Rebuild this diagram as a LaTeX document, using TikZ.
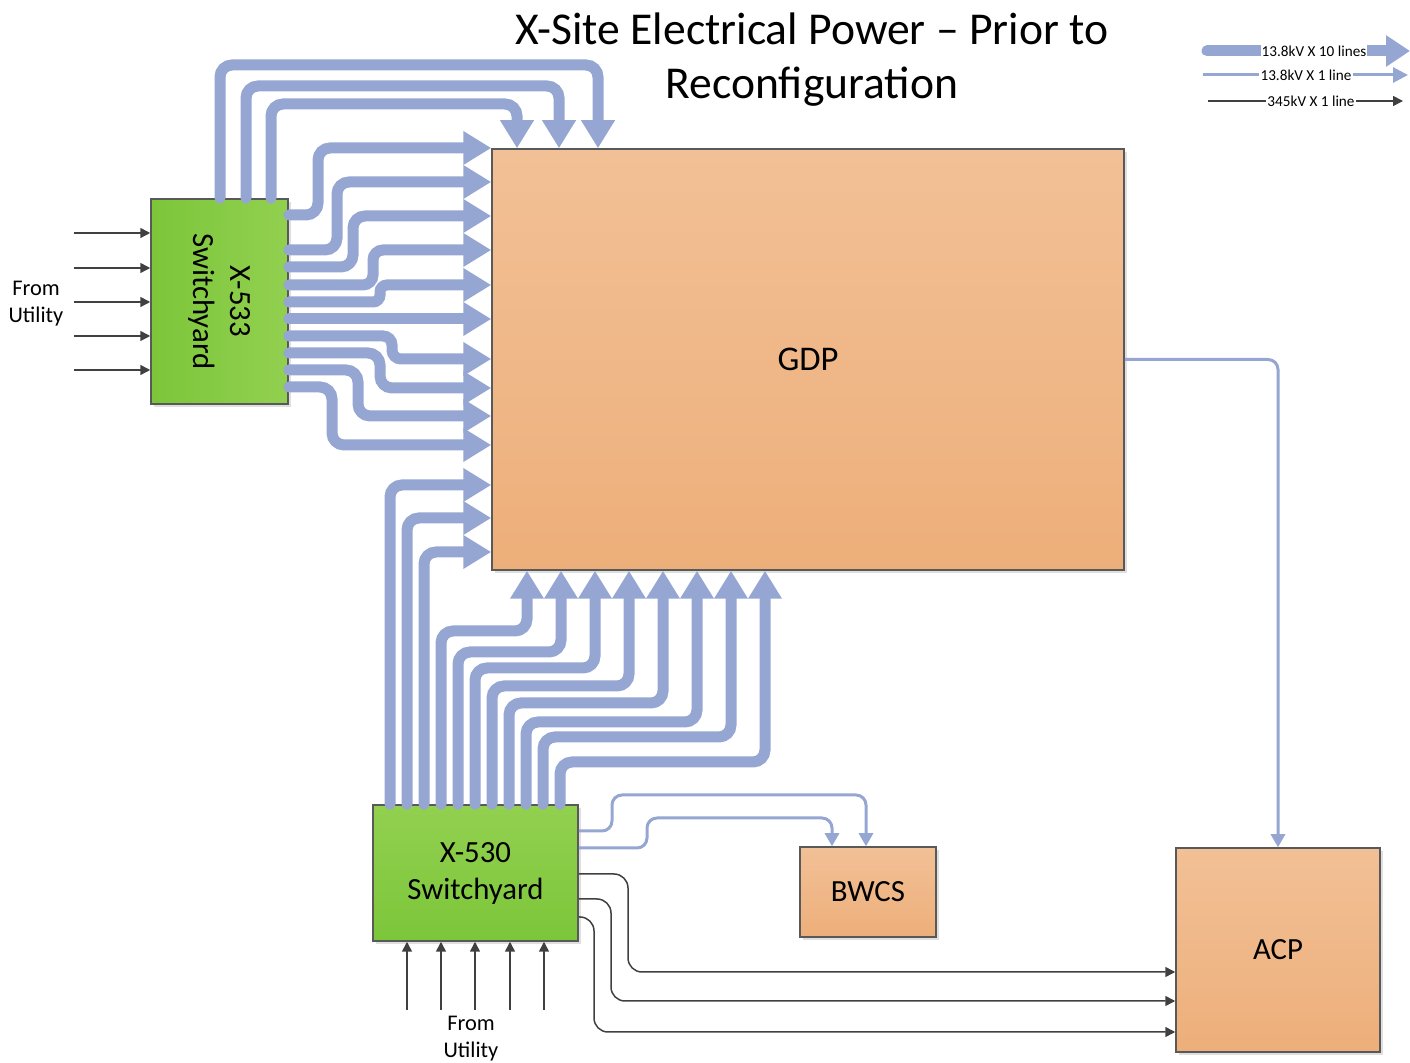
\documentclass[tikz,border=0pt]{standalone}
\usepackage{fontspec}
\setmainfont{Carlito}
\usetikzlibrary{arrows.meta,shadows}

\definecolor{busblue}{RGB}{149,166,211}
\definecolor{hvgray}{RGB}{64,64,64}
\definecolor{edgegray}{RGB}{89,89,89}
\definecolor{peachtop}{RGB}{242,192,150}
\definecolor{peachbot}{RGB}{237,175,122}
\definecolor{greenlt}{RGB}{146,208,80}
\definecolor{greendk}{RGB}{124,198,58}

\tikzset{
  block/.style={draw=edgegray, line width=0.75pt, inner sep=0pt, align=center,
    font=\fontsize{15.4}{18.5}\selectfont,
    drop shadow={shadow xshift=1.5pt, shadow yshift=-1.5pt, opacity=0.25}},
  loadbox/.style={block, top color=peachtop, bottom color=peachbot},
  yardbox/.style={block, top color=greenlt, bottom color=greendk},
  busten/.style={busblue, line width=5.5pt, line cap=round, rounded corners=6pt,
    -{Triangle[length=14pt,width=16pt]}},
  busone/.style={busblue, line width=1.5pt, rounded corners=5pt,
    -{Triangle[length=6.5pt,width=7pt]}},
  hvline/.style={hvgray, line width=0.75pt, rounded corners=7pt,
    -{Triangle[length=5pt,width=5pt]}},
  legtxt/.style={fill=white, inner sep=0.6pt, font=\fontsize{7.6}{8}\selectfont},
  utiltxt/.style={align=center, font=\fontsize{11.2}{13.5}\selectfont},
}

\begin{document}
\begin{tikzpicture}[x=0.5pt,y=-0.5pt]
  \useasboundingbox (0,0) rectangle (1410,1063);

  % title
  \node[align=center, font=\fontsize{22.8}{27}\selectfont] (title) at (812,60)
    {X-Site Electrical Power – Prior to\\Reconfiguration};

  % boxes
  \node[loadbox, minimum width=316pt, minimum height=210.5pt,
    font=\fontsize{17.3}{20}\selectfont] (gdp) at (808,359.5) {GDP};
  \node[loadbox, minimum width=68pt, minimum height=45pt] (bwcs) at (868,892) {BWCS};
  \node[loadbox, minimum width=102pt, minimum height=102pt] (acp) at (1278,950) {ACP};
  \node[yardbox, minimum width=102.5pt, minimum height=68pt] (x530) at (475.5,873) {X-530\\Switchyard};
  \node[block, left color=greendk, right color=greenlt,
    minimum width=68.5pt, minimum height=102.5pt] (x533) at (219.5,301.5) {};
  \node[rotate=-90, align=center, font=\fontsize{15.4}{18.5}\selectfont] (x533txt) at (x533) {X-533\\Switchyard};

  % 345kV feeds from the utility
  \node[utiltxt] (utilw) at (36,304) {From\\Utility};
  \node[utiltxt] (utils) at (471,1039) {From\\Utility};
  \foreach \y [count=\i] in {233,268,302,336,370} {
    \coordinate (inw\i) at (74,\y);
    \draw[hvline] (inw\i) -- (x533.west |- inw\i);
  }
  \foreach \x [count=\i] in {407,441,475,510,544} {
    \coordinate (ins\i) at (\x,1010);
    \draw[hvline] (ins\i) -- (ins\i |- x530.south);
  }

  % X-533 -> GDP, over the top
  \foreach \xs/\yh/\xt in {220/65/598, 246/86/559, 271/104/517}
    \draw[busten] (\xs,0 |- x533.north) |- (\xt,\yh) -- (\xt,0 |- gdp.north);
  % X-533 -> GDP, west side
  \foreach \ys/\bx/\yt/\r in {215/318/148/6, 250/337/182/6, 267/353/216/6, 285/373/250/5,
      302/380/285/3.5, 336/392/359/4.5, 353/380/388/6, 370/358/416/6, 387/332/445/6}
    \draw[busten, rounded corners=\r pt] (x533.east |- 0,\ys) -| (\bx,\yt) -- (gdp.west |- 0,\yt);
  \draw[busten] (x533.east |- 0,319) -- (gdp.west |- 0,319);

  % X-530 -> GDP, west side
  \foreach \xs/\yt in {390/485, 407/518, 424/552}
    \draw[busten] (\xs,0 |- x530.north) |- (gdp.west |- 0,\yt);
  % X-530 -> GDP, from below
  \foreach \xs/\yh/\xt in {441/631/527, 458/652/561, 475/668/595, 492/686/629,
      509/703/663, 526/722/697, 543/737/731, 560/762/765}
    \draw[busten] (\xs,0 |- x530.north) |- (\xt,\yh) -- (\xt,0 |- gdp.south);

  % 13.8kV single lines
  \draw[busone] (x530.east |- 0,831) -| (612,795) -| (866,0 |- bwcs.north);
  \draw[busone] (x530.east |- 0,848) -| (647,818) -| (832,0 |- bwcs.north);
  \draw[busone] (gdp.east) -| (acp.north);

  % 345kV lines to ACP
  \foreach \ys/\bx/\yt in {874/628/972, 899/611/1001, 917/594/1032}
    \draw[hvline] (x530.east |- 0,\ys) -| (\bx,\yt) -- (acp.west |- 0,\yt);

  % legend
  \coordinate (lega) at (1207,51);  \coordinate (legb) at (1410,51);
  \coordinate (legc) at (1203,75);  \coordinate (legd) at (1408,75);
  \coordinate (lege) at (1208,101); \coordinate (legf) at (1403,101);
  \draw[busten, -{Triangle[length=12pt,width=15pt]}] (lega) -- (legb);
  \draw[busone, -{Triangle[length=7.5pt,width=7.5pt]}] (legc) -- (legd);
  \draw[hvline] (lege) -- (legf);
  \node[legtxt] (leg10) at (1314,51) {13.8kV X 10 lines};
  \node[legtxt] (leg1) at (1306,75) {13.8kV X 1 line};
  \node[legtxt] (leghv) at (1311,101) {345kV X 1 line};
\end{tikzpicture}
\end{document}
